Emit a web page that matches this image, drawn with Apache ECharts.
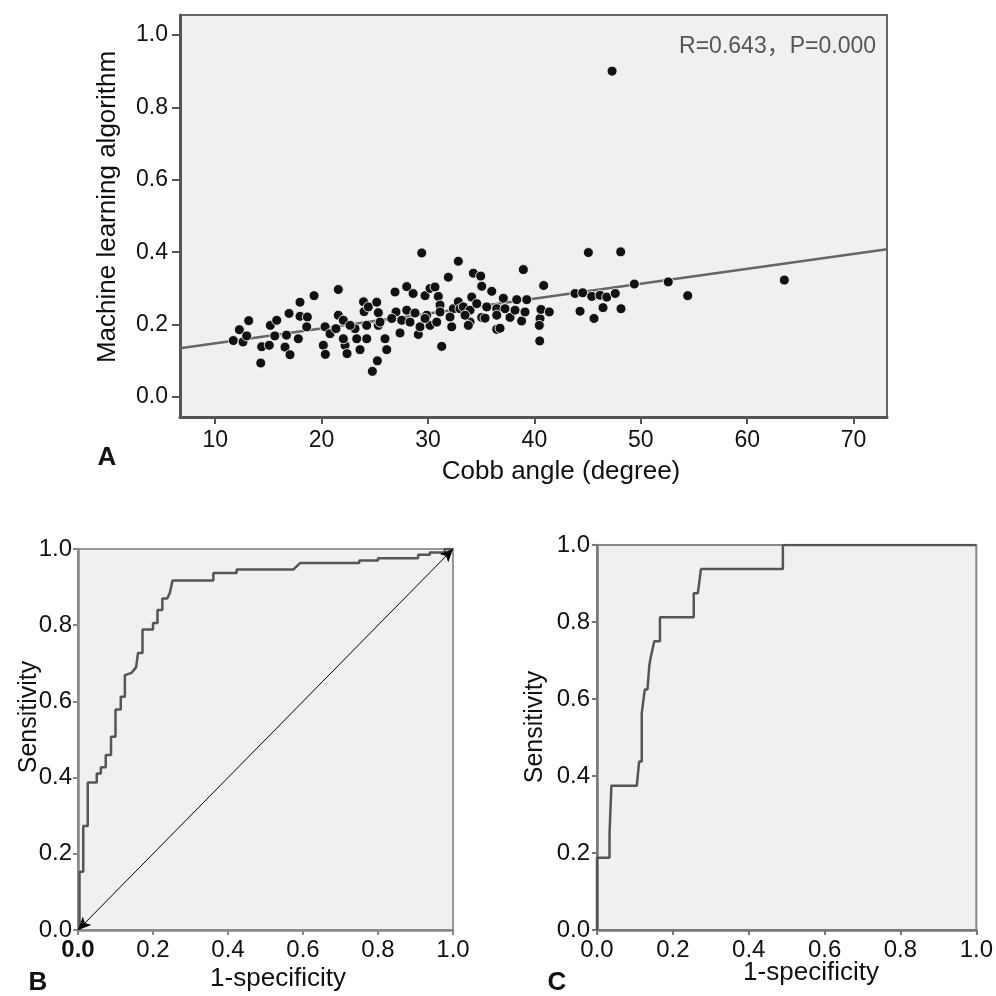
<!DOCTYPE html>
<html>
<head>
<meta charset="utf-8">
<script src="https://cdn.jsdelivr.net/npm/echarts@6/dist/echarts.min.js"></script>
<style>
html,body{margin:0;padding:0;background:#fff;}
#chart{width:996px;height:996px;}
</style>
</head>
<body>
<div id="chart"></div>
<script>
// ---------- Panel A: scatter ----------
const cobbAngle = [11.70,12.27,12.61,13.15,12.96,14.28,14.37,15.08,15.18,15.78,15.60,16.56,16.70,16.94,17.03,17.81,17.97,17.97,18.66,18.60,19.29,20.16,20.35,20.32,20.79,21.35,21.57,21.57,22.04,22.20,22.39,22.04,23.14,23.30,23.61,23.94,23.99,24.24,24.24,24.39,24.77,25.24,25.18,25.33,25.33,25.96,26.12,26.90,26.99,26.59,27.37,27.53,28.00,28.00,28.31,28.60,28.78,29.09,29.25,29.41,29.72,29.88,30.19,30.19,30.66,30.82,30.97,31.13,31.13,31.29,31.91,32.23,32.38,32.85,32.85,33.01,33.32,33.95,33.95,34.11,34.26,34.58,34.95,35.05,35.05,35.52,35.36,35.99,36.46,36.46,37.08,37.24,37.71,38.18,38.34,38.80,38.96,39.12,39.28,36.77,40.53,40.62,40.46,40.50,40.87,41.40,43.82,44.29,44.54,45.07,45.39,45.60,46.17,46.45,46.80,47.30,47.60,48.11,48.14,49.39,52.58,54.41,63.49,33.79,25.49,29.72,32.07,33.48,36.46,22.67];
const mlValue = [0.156,0.186,0.152,0.211,0.169,0.094,0.139,0.143,0.198,0.212,0.169,0.138,0.171,0.231,0.117,0.161,0.262,0.223,0.221,0.194,0.280,0.143,0.118,0.194,0.175,0.189,0.297,0.226,0.212,0.143,0.120,0.161,0.189,0.161,0.131,0.263,0.236,0.198,0.161,0.249,0.071,0.100,0.262,0.233,0.198,0.161,0.131,0.290,0.235,0.217,0.177,0.212,0.305,0.240,0.207,0.286,0.232,0.173,0.194,0.398,0.280,0.226,0.300,0.198,0.304,0.207,0.278,0.254,0.235,0.140,0.331,0.194,0.244,0.375,0.263,0.244,0.249,0.207,0.240,0.276,0.342,0.258,0.334,0.306,0.220,0.249,0.218,0.292,0.244,0.187,0.273,0.244,0.220,0.240,0.269,0.210,0.352,0.235,0.269,0.190,0.217,0.242,0.198,0.155,0.308,0.235,0.286,0.237,0.288,0.399,0.278,0.217,0.281,0.247,0.276,0.900,0.286,0.401,0.244,0.312,0.318,0.280,0.323,0.198,0.207,0.217,0.221,0.226,0.226,0.198];
const fitLineX = [6.69, 73.14];
const fitLineY = [0.135, 0.408];
const xTicksA = [10,20,30,40,50,60,70];
const yTicksA = [0,0.2,0.4,0.6,0.8,1.0];

// ---------- Panel B: ROC ----------
const rocB_fpr  = [0.004,0.004,0.014,0.014,0.026,0.026,0.05,0.05,0.061,0.061,0.074,0.074,0.088,0.088,0.1,0.1,0.114,0.114,0.125,0.125,0.143,0.155,0.16,0.172,0.172,0.2,0.2,0.212,0.212,0.225,0.225,0.238,0.245,0.252,0.361,0.361,0.423,0.423,0.574,0.592,0.75,0.75,0.8,0.8,0.907,0.907,0.938,0.938,0.978,0.978,1];
const rocB_sens = [0,0.153,0.153,0.273,0.273,0.387,0.387,0.411,0.411,0.427,0.427,0.459,0.459,0.507,0.507,0.579,0.579,0.612,0.612,0.669,0.675,0.69,0.727,0.727,0.789,0.789,0.806,0.806,0.84,0.84,0.87,0.87,0.885,0.917,0.917,0.937,0.937,0.946,0.946,0.963,0.963,0.97,0.97,0.976,0.976,0.985,0.985,0.991,0.991,1,1];
const refLineX = [0, 1];
const refLineY = [0, 1];

// ---------- Panel C: ROC ----------
const rocC_fpr  = [0,0,0.033,0.033,0.038,0.038,0.105,0.111,0.118,0.118,0.122,0.126,0.133,0.138,0.142,0.151,0.166,0.166,0.255,0.255,0.266,0.274,0.49,0.49,1];
const rocC_sens = [0,0.1875,0.1875,0.25,0.25,0.375,0.375,0.4375,0.4375,0.5625,0.5625,0.625,0.625,0.6875,0.71,0.75,0.75,0.8125,0.8125,0.875,0.875,0.9375,0.9375,1,1];
const rocTicks = [0,0.2,0.4,0.6,0.8,1.0];

const FONT = 'Liberation Sans, Arial, Noto Sans CJK SC, sans-serif';
const zip = (a, b) => a.map((v, i) => [v, b[i]]);

const chart = echarts.init(document.getElementById('chart'), null, {renderer: 'canvas'});

function valAxis(grid, opts) {
  return Object.assign({
    type: 'value', gridIndex: grid, splitLine: {show: false},
    axisLine: {show: true, onZero: false, lineStyle: {color: opts.lineColor, width: opts.lineWidth}},
    axisTick: {show: true, inside: false, length: opts.tickLen, lineStyle: {color: opts.lineColor, width: 2}, customValues: opts.ticks},
    axisLabel: {customValues: opts.ticks, fontSize: opts.fontSize, color: '#111', fontFamily: FONT, margin: opts.margin,
      formatter: opts.formatter}
  }, opts.extra);
}

const fmt1 = v => Number(v).toFixed(1);

const option = {
  animation: false,
  backgroundColor: '#ffffff',
  grid: [
    {left: 180, top: 15, width: 707, height: 402, show: true, backgroundColor: '#f0f0f0', borderColor: '#666', borderWidth: 2},
    {left: 78, top: 549, width: 375, height: 381, show: true, backgroundColor: '#f0f0f0', borderColor: '#999', borderWidth: 2},
    {left: 597, top: 545, width: 383, height: 385, show: true, backgroundColor: '#f0f0f0', borderColor: '#888', borderWidth: 2}
  ],
  xAxis: [
    valAxis(0, {lineColor: '#555', lineWidth: 3, tickLen: 7, ticks: xTicksA, fontSize: 23, margin: 12,
      formatter: v => String(Math.round(v)), extra: {min: 6.69, max: 73.14}}),
    valAxis(1, {lineColor: '#888', lineWidth: 2.5, tickLen: 5, ticks: rocTicks, fontSize: 24, margin: 8,
      formatter: v => (Math.abs(v) < 1e-9 ? '{b|0.0}' : fmt1(v)), extra: {min: 0, max: 1}}),
    valAxis(2, {lineColor: '#777', lineWidth: 2.5, tickLen: 5, ticks: rocTicks, fontSize: 24, margin: 8,
      formatter: fmt1, extra: {min: 0, max: 1}})
  ],
  yAxis: [
    valAxis(0, {lineColor: '#555', lineWidth: 3, tickLen: 8, ticks: yTicksA, fontSize: 23, margin: 12,
      formatter: fmt1, extra: {min: -0.055, max: 1.055}}),
    valAxis(1, {lineColor: '#888', lineWidth: 2.5, tickLen: 5, ticks: rocTicks, fontSize: 24, margin: 6,
      formatter: fmt1, extra: {min: 0, max: 1}}),
    valAxis(2, {lineColor: '#777', lineWidth: 2.5, tickLen: 5, ticks: rocTicks, fontSize: 24, margin: 7,
      formatter: fmt1, extra: {min: 0, max: 1}})
  ],
  series: [
    {
      type: 'line', xAxisIndex: 0, yAxisIndex: 0, data: zip(fitLineX, fitLineY),
      showSymbol: false, symbol: 'none', lineStyle: {color: '#666', width: 2.5}, z: 2, silent: true
    },
    {
      type: 'scatter', xAxisIndex: 0, yAxisIndex: 0, data: zip(cobbAngle, mlValue),
      symbol: 'circle', symbolSize: 10,
      itemStyle: {color: '#111', borderColor: 'rgba(255,255,255,0.85)', borderWidth: 1, opacity: 1}, z: 3
    },
    {
      type: 'line', xAxisIndex: 1, yAxisIndex: 1, data: zip(rocB_fpr, rocB_sens),
      showSymbol: false, symbol: 'none', lineStyle: {color: '#555', width: 2.5}, z: 3,
      markLine: {
        silent: true, symbol: ['arrow', 'arrow'], symbolSize: [9, 13],
        label: {show: false},
        lineStyle: {color: '#000', width: 1, type: 'solid'},
        data: [[{coord: [refLineX[0], refLineY[0]]}, {coord: [refLineX[1], refLineY[1]]}]]
      }
    },
    {
      type: 'line', xAxisIndex: 2, yAxisIndex: 2, data: zip(rocC_fpr, rocC_sens),
      showSymbol: false, symbol: 'none', lineStyle: {color: '#555', width: 2.5}, z: 3
    }
  ],
  graphic: [
    {type: 'text', x: 876, y: 47, style: {text: 'R=0.643，P=0.000', fontSize: 23, fontFamily: FONT, fill: '#555', textAlign: 'right', textVerticalAlign: 'middle'}},
    {type: 'text', x: 108, y: 207, rotation: Math.PI / 2, style: {text: 'Machine learning algorithm', fontSize: 26, fontFamily: FONT, fill: '#111', textAlign: 'center', textVerticalAlign: 'middle'}},
    {type: 'text', x: 561, y: 472, style: {text: 'Cobb angle (degree)', fontSize: 26, fontFamily: FONT, fill: '#111', textAlign: 'center', textVerticalAlign: 'middle'}},
    {type: 'text', x: 107, y: 458, style: {text: 'A', fontSize: 26, fontWeight: 'bold', fontFamily: FONT, fill: '#111', textAlign: 'center', textVerticalAlign: 'middle'}},
    {type: 'text', x: 29, y: 717, rotation: Math.PI / 2, style: {text: 'Sensitivity', fontSize: 25, fontFamily: FONT, fill: '#111', textAlign: 'center', textVerticalAlign: 'middle'}},
    {type: 'text', x: 278, y: 979, style: {text: '1-specificity', fontSize: 26, fontFamily: FONT, fill: '#111', textAlign: 'center', textVerticalAlign: 'middle'}},
    {type: 'text', x: 38, y: 983, style: {text: 'B', fontSize: 26, fontWeight: 'bold', fontFamily: FONT, fill: '#111', textAlign: 'center', textVerticalAlign: 'middle'}},
    {type: 'text', x: 535, y: 727, rotation: Math.PI / 2, style: {text: 'Sensitivity', fontSize: 25, fontFamily: FONT, fill: '#111', textAlign: 'center', textVerticalAlign: 'middle'}},
    {type: 'text', x: 811, y: 973, style: {text: '1-specificity', fontSize: 26, fontFamily: FONT, fill: '#111', textAlign: 'center', textVerticalAlign: 'middle'}},
    {type: 'text', x: 557, y: 983, style: {text: 'C', fontSize: 26, fontWeight: 'bold', fontFamily: FONT, fill: '#111', textAlign: 'center', textVerticalAlign: 'middle'}}
  ]
};
// rich style for bold "0.0" on panel B x-axis
option.xAxis[1].axisLabel.rich = {b: {fontSize: 24, fontWeight: 'bold', color: '#111', fontFamily: FONT}};

chart.setOption(option);
</script>
</body>
</html>
